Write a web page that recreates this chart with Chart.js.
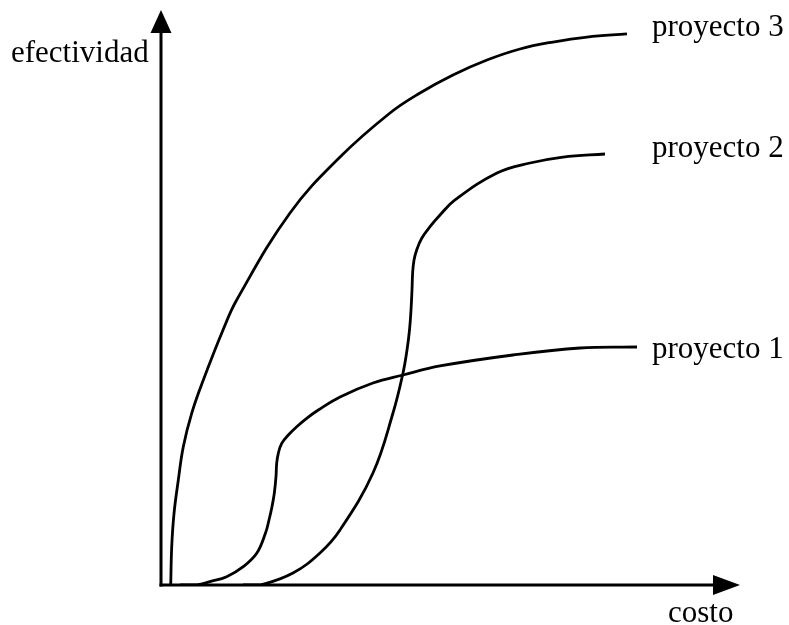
<!DOCTYPE HTML>
<html>
<head>
<title>efectividad vs costo</title>
<script src="https://cdn.jsdelivr.net/npm/chart.js@4/dist/chart.umd.min.js"></script>
<style>
    body { margin: 0; background-color: #ffffff; }
    #chartDiv { width: 789px; height: 625px; }
</style>
</head>
<body>

<div id="chartDiv">
    <canvas id="myChart" width="789" height="625"></canvas>
</div>

<script>

// curves (costo, efectividad), axes run 0..100
var seriesNames = ["proyecto 1", "proyecto 2", "proyecto 3"];

var costo1 = [3.28, 6.22, 8.46, 11.35, 14.21, 16.53, 18.05, 18.65, 19.17, 19.57, 19.86, 19.98, 20.26, 20.85, 21.99, 23.44, 25.16, 27.17, 30.92, 36.61, 41.80, 48.19, 60.79, 72.37, 82.21];
var efect1 = [0, 0, 0.58, 1.45, 3.19, 5.51, 9.04, 11.30, 13.62, 15.95, 18.83, 21.17, 22.90, 24.64, 26.09, 27.53, 28.99, 30.43, 32.70, 35.13, 36.52, 38.09, 40.00, 41.22, 41.39];

var costo2 = [14.16, 17.10, 22.80, 27.46, 30.92, 36.61, 40.07, 41.80, 42.49, 42.92, 43.18, 43.35, 43.47, 43.70, 44.16, 45.03, 46.46, 48.19, 50.78, 58.03, 63.73, 69.43, 76.68];
var efect2 = [0, 0, 2.09, 5.57, 9.57, 19.48, 29.91, 36.87, 40.87, 44.35, 47.83, 51.30, 54.43, 56.52, 58.26, 60.30, 62.31, 64.35, 66.96, 71.65, 73.39, 74.43, 74.96];

var costo3 = [1.68, 1.85, 2.25, 2.99, 3.85, 5.30, 7.31, 10.71, 13.07, 22.28, 30.92, 39.55, 44.73, 50.43, 56.30, 62.00, 67.70, 73.58, 80.48];
var efect3 = [0, 6.66, 12.47, 18.26, 24.05, 29.86, 35.65, 44.35, 49.57, 64.70, 74.43, 82.09, 85.57, 88.70, 91.30, 93.22, 94.43, 95.30, 95.83];

var xAxisTitle = "costo";
var yAxisTitle = "efectividad";

function toPoints(xs, ys) {
    var pts = [];
    for (var i = 0; i < xs.length; i++) {
        pts.push({x: xs[i], y: ys[i]});
    }
    return pts;
}

function curve(label, xs, ys) {
    return {
        label: label,
        data: toPoints(xs, ys),
        showLine: true,
        borderColor: '#000000',
        borderWidth: 2.8,
        pointRadius: 0,
        tension: 0.4,
        fill: false
    };
}

var serifFont = '31px "Liberation Serif", "Times New Roman", serif';

var axesPlugin = {
    id: 'arrowAxes',
    afterDatasetsDraw: function (chart) {
        var ctx = chart.ctx;
        var xs = chart.scales.x;
        var ys = chart.scales.y;
        var x0 = xs.getPixelForValue(0);
        var y0 = ys.getPixelForValue(0);
        var xEnd = xs.getPixelForValue(100);
        var yEnd = ys.getPixelForValue(100);

        ctx.save();
        ctx.strokeStyle = '#000000';
        ctx.fillStyle = '#000000';
        ctx.lineWidth = 3;

        // y axis
        ctx.beginPath();
        ctx.moveTo(x0, y0 + 1.5);
        ctx.lineTo(x0, yEnd + 20);
        ctx.stroke();
        ctx.beginPath();
        ctx.moveTo(x0, yEnd);
        ctx.lineTo(x0 - 10.5, yEnd + 23);
        ctx.lineTo(x0 + 10.5, yEnd + 23);
        ctx.closePath();
        ctx.fill();

        // x axis
        ctx.beginPath();
        ctx.moveTo(x0 - 1.5, y0);
        ctx.lineTo(xEnd - 20, y0);
        ctx.stroke();
        ctx.beginPath();
        ctx.moveTo(xEnd, y0);
        ctx.lineTo(xEnd - 27, y0 - 10);
        ctx.lineTo(xEnd - 27, y0 + 10);
        ctx.closePath();
        ctx.fill();

        ctx.font = serifFont;
        ctx.textBaseline = 'alphabetic';
        ctx.textAlign = 'left';
        ctx.fillText(yAxisTitle, 11, 62);
        ctx.fillText(xAxisTitle, 668, 622);

        // curve names, to the right of each curve end
        var labelY = [358, 157, 36];
        for (var i = 0; i < seriesNames.length; i++) {
            ctx.fillText(seriesNames[i], 652, labelY[i]);
        }
        ctx.restore();
    }
};

var ctxChart = document.getElementById('myChart').getContext('2d');

var chart = new Chart(ctxChart, {
    type: 'scatter',
    data: {
        datasets: [
            curve(seriesNames[0], costo1, efect1),
            curve(seriesNames[1], costo2, efect2),
            curve(seriesNames[2], costo3, efect3)
        ]
    },
    options: {
        responsive: false,
        animation: false,
        layout: {
            padding: {left: 161, right: 49, top: 10, bottom: 40}
        },
        scales: {
            x: {type: 'linear', min: 0, max: 100, display: false},
            y: {type: 'linear', min: 0, max: 100, display: false}
        },
        plugins: {
            legend: {display: false},
            tooltip: {enabled: false}
        }
    },
    plugins: [axesPlugin]
});

</script>

</body>
</html>
